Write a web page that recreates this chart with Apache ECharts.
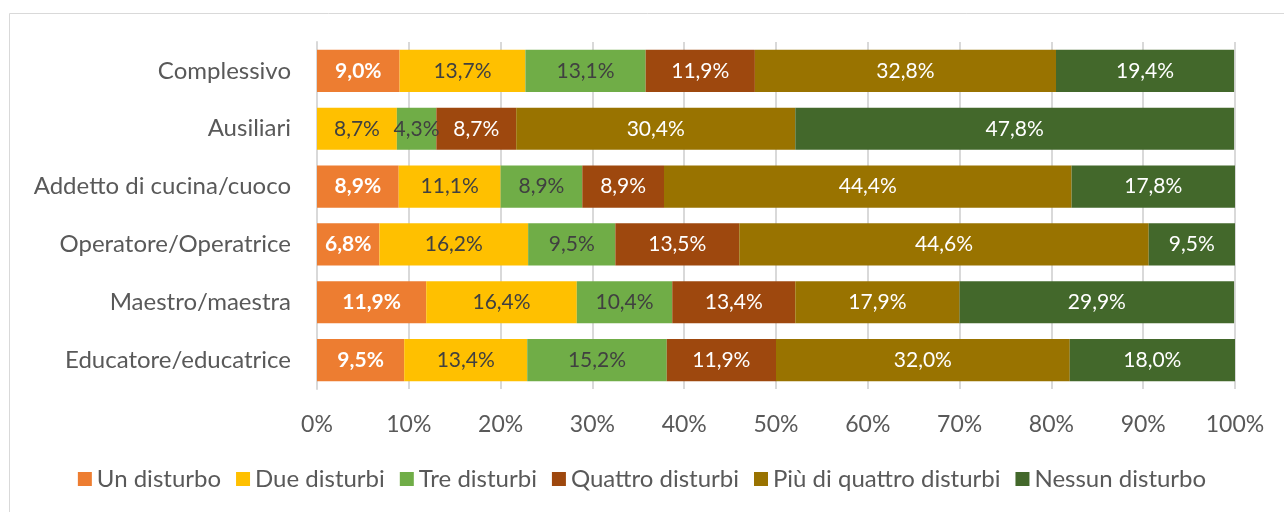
<!DOCTYPE html>
<html>
<head>
<meta charset="utf-8">
<script src="https://cdn.jsdelivr.net/npm/echarts@6/dist/echarts.min.js"></script>
<style>
    html, body { margin: 0; padding: 0; background: #fff; }
    #chart { width: 1284px; height: 512px; }
</style>
</head>
<body>
<div id="chart"></div>
<script>
// categories, top to bottom
const categories = ['Complessivo', 'Ausiliari', 'Addetto di cucina/cuoco', 'Operatore/Operatrice', 'Maestro/maestra', 'Educatore/educatrice']

const unDisturbo      = [9.0, 0, 8.9, 6.8, 11.9, 9.5]
const dueDisturbi     = [13.7, 8.7, 11.1, 16.2, 16.4, 13.4]
const treDisturbi     = [13.1, 4.3, 8.9, 9.5, 10.4, 15.2]
const quattroDisturbi = [11.9, 8.7, 8.9, 13.5, 13.4, 11.9]
const piuDiQuattro    = [32.8, 30.4, 44.4, 44.6, 17.9, 32.0]
const nessunDisturbo  = [19.4, 47.8, 17.8, 9.5, 29.9, 18.0]

const seriesNames = ['Un disturbo', 'Due disturbi', 'Tre disturbi', 'Quattro disturbi', 'Più di quattro disturbi', 'Nessun disturbo']
const seriesData = [unDisturbo, dueDisturbi, treDisturbi, quattroDisturbi, piuDiQuattro, nessunDisturbo]
const colors = ['#ED7D31', '#FFC000', '#70AD47', '#9E480E', '#997300', '#43682B']
const labelColors = ['#ffffff', '#404040', '#404040', '#ffffff', '#ffffff', '#ffffff']
const xTicks = [0, 10, 20, 30, 40, 50, 60, 70, 80, 90, 100]

const font = 'Lato, "Open Sans", sans-serif'

let chart = echarts.init(document.getElementById('chart'))

chart.setOption({
    animation: false,
    textStyle: { fontFamily: font },
    graphic: [{
        type: 'rect',
        shape: { x: 9.5, y: 13.5, width: 1290, height: 520 },
        style: { fill: 'none', stroke: '#d9d9d9', lineWidth: 1 },
        silent: true
    }],
    grid: { left: 317, right: 49, top: 42, bottom: 123 },
    legend: {
        data: seriesNames,
        top: 462,
        left: 'center',
        itemWidth: 14,
        itemHeight: 14,
        itemGap: 15,
        icon: 'rect',
        textStyle: { fontSize: 24, color: '#595959', fontFamily: font }
    },
    xAxis: {
        type: 'value',
        min: 0,
        max: 100,
        interval: 10,
        axisLine: { show: false },
        axisTick: { show: false },
        splitLine: { lineStyle: { color: '#d9d9d9', width: 2 } },
        axisLabel: {
            fontSize: 23,
            color: '#595959',
            margin: 24,
            formatter: v => xTicks.includes(v) ? v + '%' : ''
        }
    },
    yAxis: {
        type: 'category',
        inverse: true,
        data: categories,
        axisLine: { show: true, lineStyle: { color: '#d9d9d9', width: 2 } },
        axisTick: { show: false },
        axisLabel: { fontSize: 24, color: '#595959', margin: 26 }
    },
    series: seriesData.map((d, i) => ({
        name: seriesNames[i],
        type: 'bar',
        stack: 'total',
        barCategoryGap: '27%',
        data: d.map(v => v === 0 ? null : v),
        itemStyle: { color: colors[i] },
        label: {
            show: true,
            position: 'inside',
            fontSize: 21,
            color: labelColors[i],
            fontWeight: i === 0 ? 'bold' : 'normal',
            formatter: p => p.value.toFixed(1).replace('.', ',') + '%'
        }
    }))
})
</script>
</body>
</html>
